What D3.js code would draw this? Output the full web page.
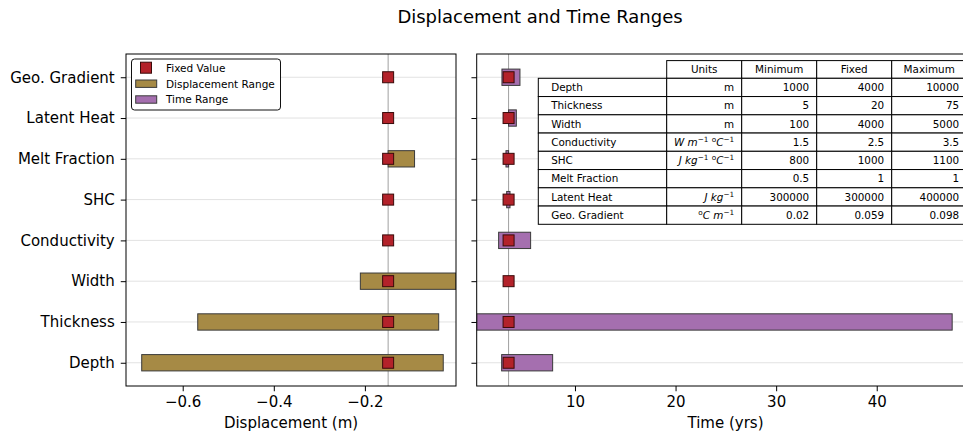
<!DOCTYPE html>
<html><head><meta charset="utf-8">
<script src="https://cdn.jsdelivr.net/npm/d3@7"></script>
<style>body{margin:0;background:#fff;} text{font-family:"DejaVu Sans",sans-serif;}</style>
</head><body><svg id="c" width="963" height="435"></svg>
<script>
// ---------- data ----------
const categories = ["Depth","Thickness","Width","Conductivity","SHC","Melt Fraction","Latent Heat","Geo. Gradient"];
const dispMin   = [-0.690, -0.567, -0.210, -0.149, -0.149, -0.149, -0.149, -0.149];
const dispMax   = [-0.028, -0.038,  0.000, -0.149, -0.149, -0.091, -0.149, -0.149];
const dispFixed = -0.149;
const timeMin   = [2.71, 0.23, 3.40, 2.41, 3.21, 3.14, 3.40, 2.74];
const timeMax   = [7.78, 47.5, 3.40, 5.59, 3.54, 3.40, 4.17, 4.53];
const timeFixed = 3.40;
const dispTicks = [-0.6, -0.4, -0.2];
const timeTicks = [10, 20, 30, 40];
const tableCols = ["Units","Minimum","Fixed","Maximum"];
const units   = ["m","m","m","W m^{−1} ^{o}C^{−1}","J kg^{−1} ^{o}C^{−1}","","J kg^{−1}","^{o}C m^{−1}"];
const minimum = ["1000","5","100","1.5","800","0.5","300000","0.02"];
const fixed   = ["4000","20","4000","2.5","1000","1","300000","0.059"];
const maximum = ["10000","75","5000","3.5","1100","1","400000","0.098"];
const legendItems = ["Fixed Value","Displacement Range","Time Range"];

// ---------- style ----------
const C_DISP = "#a68a45", C_TIME = "#a56faf", C_FIX = "#b3222a", C_FIXEDGE = "#3a0a0a";
const svg = d3.select("#c");
svg.append("rect").attr("width",963).attr("height",435).attr("fill","#fff");

const yTop = 54, yBot = 386;
const L = {x0:126, x1:456}, R = {x0:476.7, x1:974.3};
const y = d3.scaleLinear().domain([-0.57, 7.57]).range([yBot, yTop]);
const xd = d3.scaleLinear().domain([-0.7245, 0.0]).range([L.x0, L.x1]);
const xt = d3.scaleLinear().domain([0.23, 49.7]).range([R.x0, R.x1]);

svg.append("text").attr("x",540).attr("y",23).attr("text-anchor","middle")
  .attr("font-size",18).text("Displacement and Time Ranges");

const defs = svg.append("defs");
function panel(name, P, x, mins, maxs, fixedVal, color, ticks, label, showY){
  defs.append("clipPath").attr("id","clip"+name).append("rect")
    .attr("x",P.x0).attr("y",yTop).attr("width",P.x1-P.x0).attr("height",yBot-yTop);
  const g = svg.append("g");
  const inner = g.append("g").attr("clip-path","url(#clip"+name+")");
  inner.selectAll("line.grid").data(categories).join("line")
    .attr("x1",P.x0).attr("x2",P.x1).attr("y1",(d,i)=>y(i)).attr("y2",(d,i)=>y(i))
    .attr("stroke","#e2e2e2").attr("stroke-width",1);
  inner.append("line").attr("x1",x(fixedVal)).attr("x2",x(fixedVal))
    .attr("y1",yTop).attr("y2",yBot).attr("stroke","#a0a0a0").attr("stroke-width",1);
  inner.selectAll("rect.bar").data(categories).join("rect")
    .attr("x",(d,i)=>x(Math.min(mins[i],maxs[i])))
    .attr("width",(d,i)=>Math.abs(x(maxs[i])-x(mins[i])))
    .attr("y",(d,i)=>y(i+0.2)).attr("height",(d,i)=>y(i-0.2)-y(i+0.2))
    .attr("fill",color).attr("stroke","#3a3a3a").attr("stroke-width",1);
  inner.selectAll("rect.mk").data(categories).join("rect")
    .attr("x",x(fixedVal)-5.5).attr("y",(d,i)=>y(i)-5.5).attr("width",11).attr("height",11)
    .attr("fill",C_FIX).attr("stroke",C_FIXEDGE).attr("stroke-width",1);
  const ax = g.append("g").attr("transform",`translate(0,${yBot})`)
    .call(d3.axisBottom(x).tickValues(ticks).tickSize(5.25).tickPadding(5).tickSizeOuter(0)
      .tickFormat(d3.format(Number.isInteger(ticks[0])?"d":".1f")));
  ax.select(".domain").remove();
  ax.selectAll("text").attr("font-size",15).attr("fill","#000").attr("font-family","DejaVu Sans");
  ax.selectAll("line").attr("stroke","#000");
  const ay = g.append("g").attr("transform",`translate(${P.x0},0)`)
    .call(d3.axisLeft(y).tickValues(d3.range(categories.length)).tickSize(5.25).tickPadding(6)
      .tickFormat(i=> showY ? categories[i] : ""));
  ay.select(".domain").remove();
  ay.selectAll("text").attr("font-size",15).attr("fill","#000").attr("font-family","DejaVu Sans");
  ay.selectAll("line").attr("stroke","#000");
  g.append("rect").attr("x",P.x0).attr("y",yTop).attr("width",P.x1-P.x0).attr("height",yBot-yTop)
    .attr("fill","none").attr("stroke","#000").attr("stroke-width",1);
  g.append("text").attr("x",(P.x0+P.x1)/2).attr("y",428).attr("text-anchor","middle")
    .attr("font-size",15).text(label);
  return g;
}
panel("L", L, xd, dispMin, dispMax, dispFixed, C_DISP, dispTicks, "Displacement (m)", true);
panel("R", R, xt, timeMin, timeMax, timeFixed, C_TIME, timeTicks, "Time (yrs)", false);

// ---------- legend ----------
const lg = svg.append("g");
lg.append("rect").attr("x",131.5).attr("y",59).attr("width",149).attr("height",51).attr("rx",3)
  .attr("fill","#fff").attr("stroke","#111").attr("stroke-width",1);
const ly = [67.7, 83.7, 99.5];
lg.append("rect").attr("x",146-5.5).attr("y",ly[0]-5.5).attr("width",11).attr("height",11)
  .attr("fill",C_FIX).attr("stroke",C_FIXEDGE);
lg.append("rect").attr("x",135.7).attr("y",ly[1]-3.7).attr("width",21).attr("height",7.4)
  .attr("fill",C_DISP).attr("stroke","#3a3a3a");
lg.append("rect").attr("x",135.7).attr("y",ly[2]-3.7).attr("width",21).attr("height",7.4)
  .attr("fill",C_TIME).attr("stroke","#3a3a3a");
lg.selectAll("text.li").data(legendItems).join("text")
  .attr("x",166).attr("y",(d,i)=>ly[i]+3.8).attr("font-size",10.5).text(d=>d);

// ---------- table ----------
const colEdges = [R.x0+61.6, R.x0+190, R.x0+265, R.x0+340, R.x0+415, R.x0+490];
const rowH = 18.25, headTop = 60.6, bodyTop = headTop + rowH - 0.55;
const tg = svg.append("g");
const FS = 10.4;
function cell(x0,x1,y0,y1){
  tg.append("rect").attr("x",x0).attr("y",y0).attr("width",x1-x0).attr("height",y1-y0)
    .attr("fill","#fff").attr("stroke","#000").attr("stroke-width",1);
}
tableCols.forEach((c,j)=>{
  const x0 = colEdges[j+1], x1 = colEdges[j+2];
  cell(x0,x1,headTop,bodyTop);
  tg.append("text").attr("x",(x0+x1)/2).attr("y",(headTop+bodyTop)/2+3.8)
    .attr("text-anchor","middle").attr("font-size",FS).text(c);
});
function unitText(sel, s){
  const isMath = s.includes("^{");
  const parts = s.split(/(\^\{[^}]*\})/).filter(p=>p.length);
  let raised = false;
  parts.forEach(p=>{
    if(p.startsWith("^{")){
      sel.append("tspan").attr("font-size",FS*0.7).attr("dy", raised?0:-4.2)
        .attr("font-style","normal").text(p.slice(2,-1));
      raised = true;
    } else {
      sel.append("tspan").attr("font-size",FS).attr("dy", raised?4.2:0)
        .attr("font-style", isMath ? "italic" : "normal").text(p);
      raised = false;
    }
  });
}
categories.forEach((cat,i)=>{
  const y0 = bodyTop + i*rowH, y1 = y0 + rowH, yc = (y0+y1)/2 + 3.8;
  const vals = [null, minimum[i], fixed[i], maximum[i]];
  cell(colEdges[0], colEdges[1], y0, y1);
  tg.append("text").attr("x",colEdges[0]+0.1*(colEdges[1]-colEdges[0])).attr("y",yc)
    .attr("font-size",FS).text(cat);
  for(let j=0;j<4;j++){
    const x0 = colEdges[j+1], x1 = colEdges[j+2];
    cell(x0,x1,y0,y1);
    const t = tg.append("text").attr("x",x1-0.1*(x1-x0)).attr("y",yc)
      .attr("text-anchor","end").attr("font-size",FS);
    if(j===0) unitText(t, units[i]); else t.text(vals[j]);
  }
});
</script></body></html>
